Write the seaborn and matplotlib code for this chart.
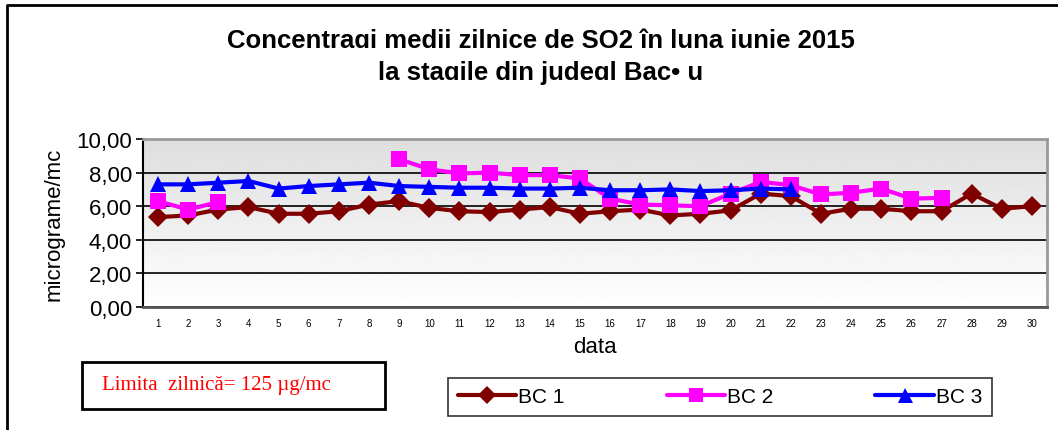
import numpy as np
import pandas as pd
import matplotlib.pyplot as plt
import seaborn as sns
from matplotlib.lines import Line2D
from matplotlib.patches import Rectangle

# daily values (NaN = no data)
days = list(range(1, 31))
bc1 = [5.35, 5.45, 5.8, 5.95, 5.55, 5.55, 5.7, 6.1, 6.3, 5.9,
       5.7, 5.65, 5.8, 5.95, 5.55, 5.7, 5.8, 5.45, 5.55, 5.75,
       6.75, 6.6, 5.55, 5.85, 5.85, 5.7, 5.7, 6.75, 5.85, 6.0]
bc2 = [6.3, 5.8, 6.25, np.nan, np.nan, np.nan, np.nan, np.nan, 8.8, 8.2,
       7.95, 8.0, 7.85, 7.85, 7.65, 6.45, 6.1, 6.05, 6.0, 6.75,
       7.45, 7.25, 6.7, 6.8, 7.05, 6.45, 6.5, np.nan, np.nan, np.nan]
bc3 = [7.3, 7.3, 7.4, 7.5, 7.05, 7.2, 7.3, 7.4, 7.2, 7.15,
       7.1, 7.1, 7.05, 7.05, 7.1, 6.95, 6.95, 7.0, 6.9, 6.95,
       7.05, 7.0, np.nan, np.nan, np.nan, np.nan, np.nan, np.nan, np.nan, np.nan]
stations = ["BC 1", "BC 2", "BC 3"]
colors = ["#800000", "#ff00ff", "#0000ff"]
markers = ["D", "s", "^"]
msizes = [10, 11, 12]

sns.set_style("white")
plt.rcParams['font.family'] = ['Liberation Sans', 'DejaVu Sans']
plt.rcParams['text.color'] = 'black'
plt.rcParams['axes.labelcolor'] = 'black'
plt.rcParams['xtick.color'] = 'black'
plt.rcParams['ytick.color'] = 'black'

fig = plt.figure(figsize=(10.58, 4.31), dpi=100)
ax = fig.add_axes([143 / 1058, 1 - 308 / 431, 904 / 1058, 168 / 431])

# grey (top) to white (bottom) gradient background
grad = np.linspace(1.0, 0.87, 256).reshape(-1, 1)
ax.imshow(grad, cmap="gray", vmin=0, vmax=1, aspect="auto", origin="lower",
          extent=[0, 1, 0, 1], transform=ax.transAxes, zorder=0)

for name, vals, c, m, s in zip(stations, [bc1, bc2, bc3], colors, markers, msizes):
    df = pd.DataFrame({"day": days, "value": vals})
    df["seg"] = df["value"].isna().cumsum()
    df = df.dropna()
    sns.lineplot(data=df, x="day", y="value", units="seg", estimator=None,
                 color=c, marker=m, markersize=s, markeredgecolor=c,
                 markeredgewidth=0, linewidth=3, ax=ax, zorder=3)

ax.set_xlim(0.5, 30.5)
ax.set_ylim(0, 10)
ax.set_yticks([0, 2, 4, 6, 8, 10])
ax.set_yticklabels(["0,00", "2,00", "4,00", "6,00", "8,00", "10,00"], fontsize=16)
ax.yaxis.grid(True, color="black", linewidth=1.2)
ax.set_axisbelow(True)
for gl in ax.get_ygridlines():
    gl.set_zorder(1)

ax.set_xticks(days)
ax.set_xticklabels([str(d) for d in days], fontsize=7)
ax.set_xticks(np.arange(0.5, 31, 1), minor=True)
ax.tick_params(axis="x", which="major", length=0, pad=8)
ax.tick_params(axis="x", which="minor", length=5, width=1.2, color="black", direction="out")
ax.tick_params(axis="y", length=5, width=1.2, color="black", direction="out", left=True, pad=3)

for sp in ["top", "right"]:
    ax.spines[sp].set_color("#999999")
    ax.spines[sp].set_linewidth(2)
ax.spines["left"].set_color("black")
ax.spines["left"].set_linewidth(1.5)
ax.spines["bottom"].set_color("#555555")
ax.spines["bottom"].set_linewidth(2)
for sp in ax.spines.values():
    sp.set_zorder(5)

ax.set_xlabel("data", fontsize=16, labelpad=6)
ax.set_ylabel("micrograme/mc", fontsize=16, labelpad=8)

# title
fig.text(0.511, 0.905, "Concentraɑi medii zilnice de SO2 în luna iunie 2015",
         ha="center", va="center", fontsize=18.5, fontweight="bold", color="black")
fig.text(0.511, 0.831, "la staɑile din judeɑl Bac• u",
         ha="center", va="center", fontsize=18.5, fontweight="bold", color="black")

# legend
handles = [Line2D([], [], color=c, marker=m, markersize=s * 0.9, markeredgewidth=0, linewidth=3)
           for c, m, s in zip(colors, markers, msizes)]
leg = fig.legend(handles, stations, loc="center", bbox_to_anchor=(720 / 1058, 1 - 398 / 431),
                 ncol=3, fontsize=15, frameon=True, fancybox=False, edgecolor="black",
                 handlelength=2.8, handletextpad=0.1, columnspacing=4.9,
                 borderpad=0.45)
leg.get_frame().set_linewidth(1.2)

# limit value box
fig.patches.append(Rectangle((82 / 1058, 1 - 410 / 431), 303 / 1058, 47 / 431,
                             transform=fig.transFigure, fill=False,
                             edgecolor="black", linewidth=2))
fig.text(102 / 1058, 1 - 386 / 431, "Limita  zilnică= 125 µg/mc", color="red",
         fontsize=15, family=["Liberation Serif", "DejaVu Serif"], ha="left", va="center")

# outer frame of the chart
fig.lines.append(Line2D([7 / 1058, 7 / 1058, 1.0], [0.0, 1 - 6 / 431, 1 - 6 / 431],
                        transform=fig.transFigure, color="black", linewidth=2))

fig.savefig("out.png", dpi=100)
